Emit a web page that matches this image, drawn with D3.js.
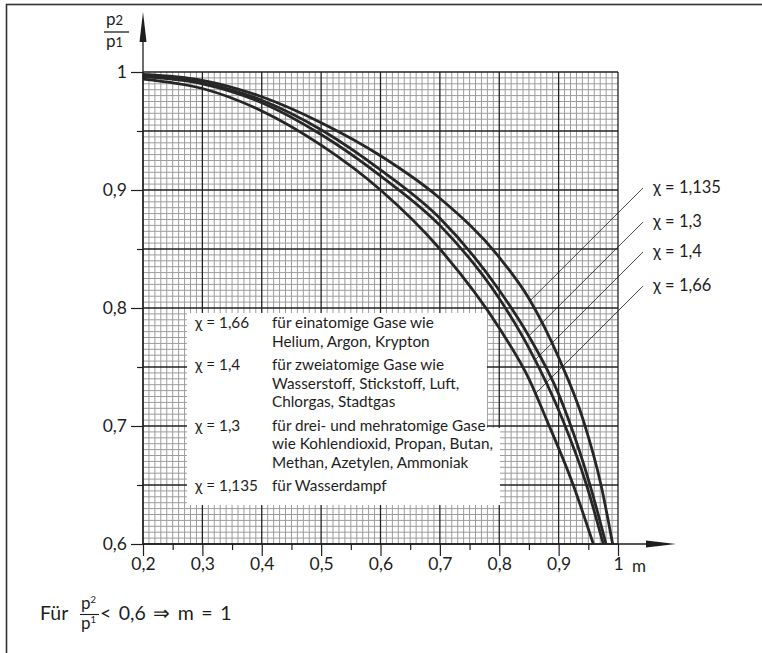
<!DOCTYPE html>
<html><head><meta charset="utf-8">
<script src="https://cdn.jsdelivr.net/npm/d3@7"></script>
<style>
body{margin:0;background:#fff}
svg{display:block}
text{font-family:Lato,"Noto Sans",sans-serif;fill:#1e1e1e}
</style>
</head><body>
<svg id="c" width="762" height="653"></svg>
<script>
// ---- data ----
const xTickValues = [0.2,0.3,0.4,0.5,0.6,0.7,0.8,0.9,1];
const xTickLabels = ["0,2","0,3","0,4","0,5","0,6","0,7","0,8","0,9","1"];
const yTickValues = [0.6,0.7,0.8,0.9,1];
const yTickLabels = ["0,6","0,7","0,8","0,9","1"];
const seriesNames = ["χ = 1,135","χ = 1,3","χ = 1,4","χ = 1,66"];
// [m, p2/p1]
const curve1135 = [[0.2,0.998],[0.3,0.993],[0.4,0.979],[0.5,0.957],[0.6,0.929],[0.7,0.893],[0.8,0.843],[0.85,0.808],[0.9,0.758],[0.9415,0.705],[0.9714,0.650],[0.991,0.600]];
const curve13   = [[0.2,0.997],[0.3,0.991],[0.4,0.976],[0.5,0.951],[0.6,0.917],[0.7,0.876],[0.8,0.815],[0.85,0.776],[0.9,0.727],[0.917,0.705],[0.9528,0.650],[0.9798,0.600]];
const curve14   = [[0.2,0.996],[0.3,0.990],[0.4,0.974],[0.5,0.947],[0.6,0.912],[0.7,0.870],[0.8,0.808],[0.85,0.766],[0.907,0.705],[0.947,0.650],[0.9752,0.600]];
const curve166  = [[0.2,0.994],[0.3,0.986],[0.4,0.967],[0.5,0.938],[0.6,0.900],[0.7,0.850],[0.8,0.783],[0.85,0.740],[0.88,0.705],[0.9246,0.650],[0.9584,0.600]];
const legendRows = [
  ["χ = 1,66", ["für einatomige Gase wie","Helium, Argon, Krypton"]],
  ["χ = 1,4", ["für zweiatomige Gase wie","Wasserstoff, Stickstoff, Luft,","Chlorgas, Stadtgas"]],
  ["χ = 1,3", ["für drei- und mehratomige Gase","wie Kohlendioxid, Propan, Butan,","Methan, Azetylen, Ammoniak"]],
  ["χ = 1,135", ["für Wasserdampf"]]
];

// ---- layout ----
const svg = d3.select("#c");
const x = d3.scaleLinear().domain([0.2,1]).range([143,618]);
const y = d3.scaleLinear().domain([0.6,1]).range([544,72]);
const ink = "#1e1e1e";

// outer frame
svg.append("rect").attr("x",6.5).attr("y",4.5).attr("width",800).attr("height",700)
  .attr("fill","none").attr("stroke","#333").attr("stroke-width",1.6);

// grid
const g = svg.append("g");
const minorX = d3.range(0,81).filter(i=>i%10!==0).map(i=>0.2+i*0.01);
const minorY = d3.range(0,81).filter(j=>j%10!==0).map(j=>0.6+j*0.005);
const majorX = d3.range(0,9).map(i=>0.2+i*0.1);
const majorY = d3.range(0,9).map(j=>0.6+j*0.05);
g.selectAll(".mx").data(minorX).join("line")
  .attr("x1",d=>x(d)).attr("x2",d=>x(d)).attr("y1",y(0.6)).attr("y2",y(1))
  .attr("stroke","#9c9c9c").attr("stroke-width",1);
g.selectAll(".my").data(minorY).join("line")
  .attr("y1",d=>y(d)).attr("y2",d=>y(d)).attr("x1",x(0.2)).attr("x2",x(1))
  .attr("stroke","#9c9c9c").attr("stroke-width",1);
g.selectAll(".Mx").data(majorX).join("line")
  .attr("x1",d=>x(d)).attr("x2",d=>x(d)).attr("y1",y(0.6)).attr("y2",y(1))
  .attr("stroke","#222").attr("stroke-width",1.3);
g.selectAll(".My").data(majorY).join("line")
  .attr("y1",d=>y(d)).attr("y2",d=>y(d)).attr("x1",x(0.2)).attr("x2",x(1))
  .attr("stroke","#222").attr("stroke-width",1.3);

// curves
const line = d3.line().x(d=>x(d[0])).y(d=>y(d[1])).curve(d3.curveMonotoneX);
const curves = [curve1135, curve13, curve14, curve166];
const paths = svg.append("g").selectAll("path").data(curves).join("path")
  .attr("d",line).attr("fill","none").attr("stroke","#262626").attr("stroke-width",2.8);

// legend box (white)
svg.append("path")
  .attr("d","M187,313 H487 V428 H500 V505 H187 Z").attr("fill","#fff");
const lg = svg.append("g").style("font-size","15.3px");
let by = 328;
legendRows.forEach(([k, lines])=>{
  lg.append("text").attr("x",195).attr("y",by).text(k);
  lines.forEach((t,i)=>lg.append("text").attr("x",272).attr("y",by+i*18.5).text(t));
  by += (lines.length-1)*18.5 + 23.5;
});

// axes
const axX = d3.axisBottom(x).tickValues(xTickValues).tickSize(12).tickPadding(2)
  .tickFormat((d,i)=>xTickLabels[i]);
const axXminor = d3.axisBottom(x).tickValues(d3.range(0,8).map(i=>0.25+i*0.1)).tickSize(6).tickFormat("");
const gx = svg.append("g").attr("transform",`translate(0,${y(0.6)})`).call(axX);
svg.append("g").attr("transform",`translate(0,${y(0.6)})`).call(axXminor).select(".domain").remove();
gx.select(".domain").remove();
gx.selectAll("text").style("font-size","17.5px").attr("fill",ink).attr("font-family","Lato");
const axY = d3.axisLeft(y).tickValues(yTickValues).tickSize(12).tickPadding(4)
  .tickFormat((d,i)=>yTickLabels[i]);
const axYminor = d3.axisLeft(y).tickValues(d3.range(0,4).map(j=>0.65+j*0.1)).tickSize(6).tickFormat("");
const gy = svg.append("g").attr("transform",`translate(${x(0.2)},0)`).call(axY);
svg.append("g").attr("transform",`translate(${x(0.2)},0)`).call(axYminor).select(".domain").remove();
gy.select(".domain").remove();
gy.selectAll("text").style("font-size","17.5px").attr("fill",ink).attr("font-family","Lato");
svg.selectAll(".tick line").attr("stroke",ink).attr("stroke-width",1.2);

// axis lines with arrows
svg.append("line").attr("x1",x(0.2)).attr("x2",x(0.2)).attr("y1",y(0.6)).attr("y2",30)
  .attr("stroke",ink).attr("stroke-width",1.3);
svg.append("path").attr("d",`M${x(0.2)},12 L${x(0.2)-3.5},42 L${x(0.2)+3.5},42 Z`).attr("fill",ink);
svg.append("line").attr("x1",x(0.2)).attr("x2",660).attr("y1",y(0.6)).attr("y2",y(0.6))
  .attr("stroke",ink).attr("stroke-width",1.3);
svg.append("path").attr("d",`M676,${y(0.6)} L646,${y(0.6)-3.5} L646,${y(0.6)+3.5} Z`).attr("fill",ink);
svg.append("text").attr("x",632).attr("y",572).style("font-size","17px").text("m");

// y-axis title fraction
const yt = svg.append("g").style("font-size","17px");
yt.append("text").attr("x",106).attr("y",25).html('p<tspan font-size="13">2</tspan>');
yt.append("line").attr("x1",104).attr("x2",129).attr("y1",32).attr("y2",32).attr("stroke",ink).attr("stroke-width",1.3);
yt.append("text").attr("x",106).attr("y",46.5).html('p<tspan font-size="13">1</tspan>');

// right-hand labels and leaders
const labelY = [193,227,257,291];
const lab = svg.append("g").style("font-size","16.5px");
paths.each(function(d,i){
  const p = this, L = p.getTotalLength();
  const x0 = 643, y0 = labelY[i]-5;
  let best=null, bd=1e9;
  for(let s=0;s<=L;s+=0.5){
    const pt = p.getPointAtLength(s);
    if(pt.x>x0) continue;
    const diff = Math.abs((x0-pt.x)-(pt.y-y0));
    if(diff<bd){bd=diff;best=pt;}
  }
  svg.append("line").attr("x1",x0).attr("y1",y0).attr("x2",best.x).attr("y2",best.y)
    .attr("stroke",ink).attr("stroke-width",0.8);
  lab.append("text").attr("x",653).attr("y",labelY[i]).text(seriesNames[i]);
});

// bottom note
const bt = svg.append("g").style("font-size","19.5px");
bt.append("text").attr("x",40).attr("y",620).text("Für");
bt.append("text").attr("x",81).attr("y",609).style("font-size","17px").html('p<tspan font-size="9.5" dy="-6">2</tspan>');
bt.append("line").attr("x1",80).attr("x2",99).attr("y1",614.5).attr("y2",614.5).attr("stroke",ink).attr("stroke-width",1.1);
bt.append("text").attr("x",81).attr("y",629).style("font-size","17px").html('p<tspan font-size="9.5" dy="-6">1</tspan>');
bt.append("text").attr("x",100).attr("y",620).attr("word-spacing","2.5").text("< 0,6 ⇒ m = 1");
</script>
</body></html>
